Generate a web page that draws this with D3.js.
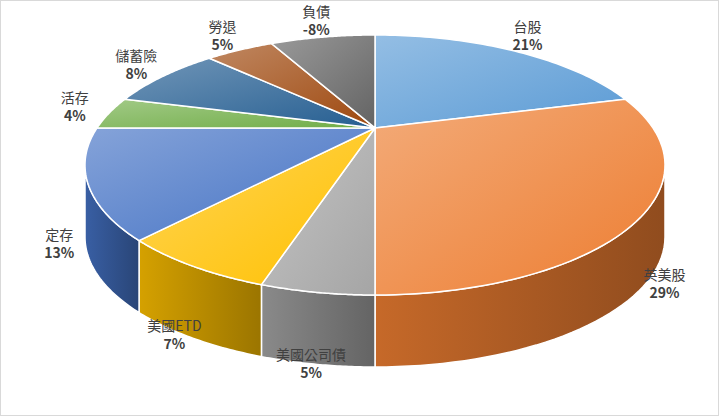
<!DOCTYPE html>
<html><head><meta charset="utf-8">
<script src="https://cdn.jsdelivr.net/npm/d3@7/dist/d3.min.js"></script>
<style>body{margin:0;background:#fff}svg{display:block}</style></head>
<body><svg width="719" height="416"></svg>
<script>
const categories=["台股","英美股","美國公司債","美國ETD","定存","活存","儲蓄險","勞退","負債"];
const values=[21,29,5,7,13,4,8,5,8];
const labels=["21%","29%","5%","7%","13%","4%","8%","5%","-8%"];
const colors=["#5b9bd5","#ed7d31","#a5a5a5","#ffc000","#4472c4","#70ad47","#255e91","#9e480e","#636363"];

const svg=d3.select("svg");
svg.append("rect").attr("x",0.5).attr("y",0.5).attr("width",718).attr("height",415).attr("fill","#fff").attr("stroke","#d9d9d9");
const cx=375,cy=165,rx=290,ry=130,depth=72,off=0.285;
const pie=d3.pie().sort(null).value(d=>d)(values);
// perspective: apex offset toward back; map pie angle to ellipse param
function phi(t){
  const dx=Math.sin(t),dy=Math.cos(t);
  const b=off*dy, c=off*off-1;
  const s=-b+Math.sqrt(b*b-c);
  return Math.atan2(dx*s, off+dy*s);
}
const apex=[cx,cy-ry*off];
const P=(t,dy=0)=>[cx+rx*Math.sin(t),cy-ry*Math.cos(t)+dy];
const defs=svg.append("defs");
colors.forEach((c,i)=>{
  const g=defs.append("linearGradient").attr("id","g"+i).attr("x1","0").attr("y1","0").attr("x2","1").attr("y2","1");
  g.append("stop").attr("offset","0%").attr("stop-color",d3.interpolateRgb(c,"#fff")(0.35));
  g.append("stop").attr("offset","100%").attr("stop-color",c);
  const s=defs.append("linearGradient").attr("id","s"+i).attr("x1","0").attr("y1","0").attr("x2","1").attr("y2","0");
  s.append("stop").attr("offset","0%").attr("stop-color",d3.color(c).darker(0.5));
  s.append("stop").attr("offset","100%").attr("stop-color",d3.color(c).darker(1.4));
});
const arcs=pie.map(d=>{let a=phi(d.startAngle),b=phi(d.endAngle);if(a<0)a+=2*Math.PI;if(b<=a)b+=2*Math.PI;return [a,b];});
arcs.forEach(([a0,b0],i)=>{
  const a=Math.max(a0,Math.PI/2),b=Math.min(b0,Math.PI*1.5);
  if(b<=a)return;
  const n=40,pts=[];
  for(let k=0;k<=n;k++)pts.push(P(a+(b-a)*k/n));
  for(let k=n;k>=0;k--)pts.push(P(a+(b-a)*k/n,depth));
  svg.append("path").attr("d","M"+pts.map(p=>p.join(",")).join("L")+"Z")
    .attr("fill",`url(#s${i})`).attr("stroke","#fff").attr("stroke-width",1.5);
});
arcs.forEach(([a,b],i)=>{
  const n=60,pts=[apex];
  for(let k=0;k<=n;k++)pts.push(P(a+(b-a)*k/n));
  svg.append("path").attr("d","M"+pts.map(p=>p.join(",")).join("L")+"Z")
    .attr("fill",`url(#g${i})`).attr("stroke","#fff").attr("stroke-width",1.5);
});
pie.forEach((d,i)=>{
  const m=phi((d.startAngle+d.endAngle)/2);
  const f=Math.cos(m)<0?1.1:1.13;
  let x=cx+rx*f*Math.sin(m),y=cy-ry*f*Math.cos(m);
  if(Math.cos(m)<0)y+=depth*0.8;
  const t=svg.append("text").attr("x",x).attr("y",y-3).attr("text-anchor","middle")
    .attr("font-family","Noto Sans CJK TC").attr("font-size",14).attr("fill","#404040");
  t.append("tspan").attr("x",x).text(categories[i]);
  t.append("tspan").attr("x",x).attr("dy",18).attr("font-weight","bold").text(labels[i]);
});
</script></body></html>
